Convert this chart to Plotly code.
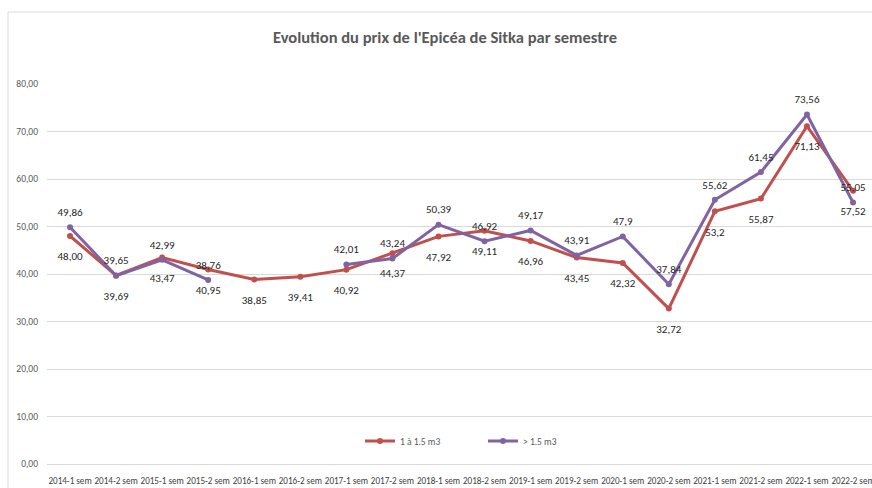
import plotly.graph_objects as go

categories = ["2014-1 sem", "2014-2 sem", "2015-1 sem", "2015-2 sem", "2016-1 sem", "2016-2 sem",
              "2017-1 sem", "2017-2 sem", "2018-1 sem", "2018-2 sem", "2019-1 sem", "2019-2 sem",
              "2020-1 sem", "2020-2 sem", "2021-1 sem", "2021-2 sem", "2022-1 sem", "2022-2 sem"]

red_values = [48.00, 39.69, 43.47, 40.95, 38.85, 39.41, 40.92, 44.37, 47.92, 49.11, 46.96, 43.45,
              42.32, 32.72, 53.2, 55.87, 71.13, 57.52]
red_labels = ["48,00", "39,69", "43,47", "40,95", "38,85", "39,41", "40,92", "44,37", "47,92", "49,11",
              "46,96", "43,45", "42,32", "32,72", "53,2", "55,87", "71,13", "57,52"]

purple_values = [49.86, 39.65, 42.99, 38.76, None, None, 42.01, 43.24, 50.39, 46.92, 49.17, 43.91,
                 47.9, 37.84, 55.62, 61.45, 73.56, 55.05]
purple_labels = ["49,86", "39,65", "42,99", "38,76", "", "", "42,01", "43,24", "50,39", "46,92",
                 "49,17", "43,91", "47,9", "37,84", "55,62", "61,45", "73,56", "55,05"]

series_names = ["1 à 1.5 m3", "> 1.5 m3"]
title_text = "Evolution du prix de l'Epicéa de Sitka par semestre"

FONT = "Carlito, 'Liberation Sans Narrow', Lato, sans-serif"
W, H = 872, 488
L, T, B = 47, 84, 24
plot_w = W - L
plot_h = H - T - B
cat_w = 46.06
LABEL_FONT = dict(family=FONT, size=11, color="#262626")

fig = go.Figure()
fig.add_trace(go.Scatter(
    x=categories, y=red_values, name=series_names[0], mode="lines+markers",
    line=dict(color="#C0504D", width=3), marker=dict(size=6, color="#C0504D")))
fig.add_trace(go.Scatter(
    x=categories, y=purple_values, name=series_names[1], mode="lines+markers",
    line=dict(color="#8064A2", width=3), marker=dict(size=6, color="#8064A2"),
    connectgaps=False))
# data labels (invisible markers only used to offset the text from the points)
fig.add_trace(go.Scatter(
    x=categories, y=red_values, mode="markers+text", showlegend=False,
    marker=dict(size=24, opacity=0), text=red_labels, textposition="bottom center",
    textfont=LABEL_FONT, cliponaxis=False))
fig.add_trace(go.Scatter(
    x=categories, y=purple_values, mode="markers+text", showlegend=False,
    marker=dict(size=12, opacity=0), text=purple_labels, textposition="top center",
    textfont=LABEL_FONT, cliponaxis=False))

span = plot_w / cat_w
fig.update_layout(
    width=W, height=H,
    margin=dict(l=L, r=0, t=T, b=B, autoexpand=False),
    paper_bgcolor="white", plot_bgcolor="white",
    separators=",.",
    hovermode=False,
    title=dict(text="<b>" + title_text + "</b>", x=445 / W, xanchor="center",
               y=1 - 37 / H, yanchor="middle",
               font=dict(family=FONT, size=16.5, color="#595959")),
    xaxis=dict(range=[-0.5, -0.5 + span], showgrid=False, showline=False, zeroline=False,
               tickangle=0, ticks="", ticklabelstandoff=10,
               tickfont=dict(family=FONT, size=9.1, color="#404040"),
               automargin=False, fixedrange=True),
    yaxis=dict(range=[0, 80], dtick=10, tickformat=".2f", showgrid=True, gridcolor="#D9D9D9",
               gridwidth=1, zeroline=True, zerolinecolor="#D9D9D9", zerolinewidth=1,
               showline=False, ticks="", ticklabelstandoff=8,
               tickfont=dict(family=FONT, size=9.5, color="#595959"), automargin=False),
    legend=dict(orientation="h", x=(360 - L) / plot_w, xanchor="left",
                y=(464 - 441) / plot_h, yanchor="middle",
                font=dict(family=FONT, size=9.5, color="#595959"),
                bgcolor="rgba(0,0,0,0)", entrywidth=78, entrywidthmode="pixels",
                itemwidth=30, borderwidth=0),
    showlegend=True,
)

bx = (8 - L) / plot_w
by = 1 + (T - 12) / plot_h
fig.add_shape(type="line", xref="paper", yref="paper", x0=bx, x1=bx, y0=by, y1=-0.2,
              line=dict(color="#D9D9D9", width=1), layer="below")
fig.add_shape(type="line", xref="paper", yref="paper", x0=bx, x1=1.1, y0=by, y1=by,
              line=dict(color="#D9D9D9", width=1), layer="below")

fig.write_html("out.html", config={"displayModeBar": False},
               post_script="document.body.style.margin='0';document.body.style.overflow='hidden';")
